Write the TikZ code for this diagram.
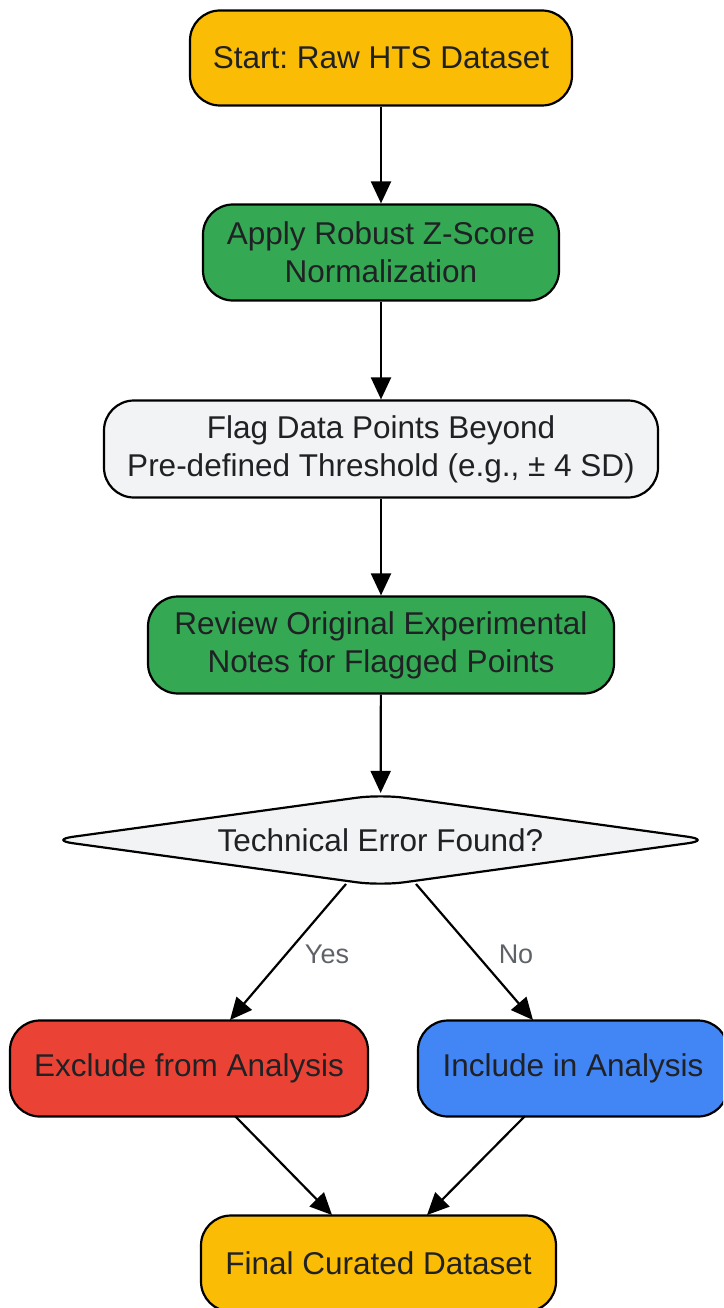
\documentclass[tikz,border=0pt]{standalone}
\usepackage{fontspec}
\setmainfont{Liberation Sans}
\frenchspacing
\usetikzlibrary{shapes.geometric,arrows.meta}
\definecolor{cyellow}{HTML}{FBBC05}
\definecolor{cgreen}{HTML}{34A853}
\definecolor{cgray}{HTML}{F1F3F4}
\definecolor{cred}{HTML}{EA4335}
\definecolor{cblue}{HTML}{4285F4}
\definecolor{ctext}{HTML}{202124}
\definecolor{clabel}{HTML}{5F6368}
\tikzset{
  box/.style={draw=black, line width=2.2pt, rounded corners=30pt, align=center,
    text=ctext, font=\fontsize{31.5}{38}\selectfont, inner sep=0pt},
  dec/.style={draw=black, line width=2.2pt, diamond, aspect=7.06, rounded corners=24pt, fill=cgray,
    text=ctext, font=\fontsize{31.5}{38}\selectfont, inner sep=0pt},
  conn/.style={draw=black, line width=2.2pt, -{Triangle[length=22pt,width=20pt]}},
  lbl/.style={text=clabel, font=\fontsize{27}{32}\selectfont}
}
\begin{document}
\begin{tikzpicture}[x=1pt,y=-1pt]
\useasboundingbox (0,0) rectangle (723,1308);
\clip (0,0) rectangle (723,1308);
\node[box, fill=cyellow, minimum width=382pt, minimum height=95pt] (start) at (381,58) {Start: Raw HTS Dataset};
\node[box, fill=cgreen, minimum width=356pt, minimum height=96pt] (apply) at (381,252.5) {Apply Robust Z-Score\\Normalization};
\node[box, fill=cgray, minimum width=554pt, minimum height=97pt] (flag) at (381,449) {Flag Data Points Beyond\\Pre-defined Threshold (e.g., ± 4 SD)};
\node[box, fill=cgreen, minimum width=466pt, minimum height=97pt] (review) at (381,645) {Review Original Experimental\\Notes for Flagged Points};
\node[dec, minimum width=663pt, minimum height=92pt] (dec) at (380.5,840) {Technical Error Found?};
\node[box, fill=cred, minimum width=358pt, minimum height=96pt] (excl) at (189,1068.5) {Exclude from Analysis};
\node[box, fill=cblue, minimum width=310pt, minimum height=96pt] (incl) at (573,1068.5) {Include in Analysis};
\node[box, fill=cyellow, minimum width=355pt, minimum height=96pt] (final) at (378.5,1263.5) {Final Curated Dataset};
\coordinate (dl) at (346,884);
\coordinate (dr) at (416,884);
\coordinate (el) at (230,1020);
\coordinate (ir) at (533,1020);
\coordinate (eb) at (235,1116);
\coordinate (ib) at (525,1116);
\coordinate (fl) at (332,1215);
\coordinate (fr) at (427,1215);
\draw[conn] (start) -- (apply);
\draw[conn] (apply) -- (flag);
\draw[conn] (flag) -- (review);
\draw[conn] (review) -- (dec);
\draw[conn] (dl) -- (el);
\draw[conn] (dr) -- (ir);
\draw[conn] (eb) -- (fl);
\draw[conn] (ib) -- (fr);
\node[lbl] (yes) at (327,954) {Yes};
\node[lbl] (no) at (516,954) {No};
\end{tikzpicture}
\end{document}
